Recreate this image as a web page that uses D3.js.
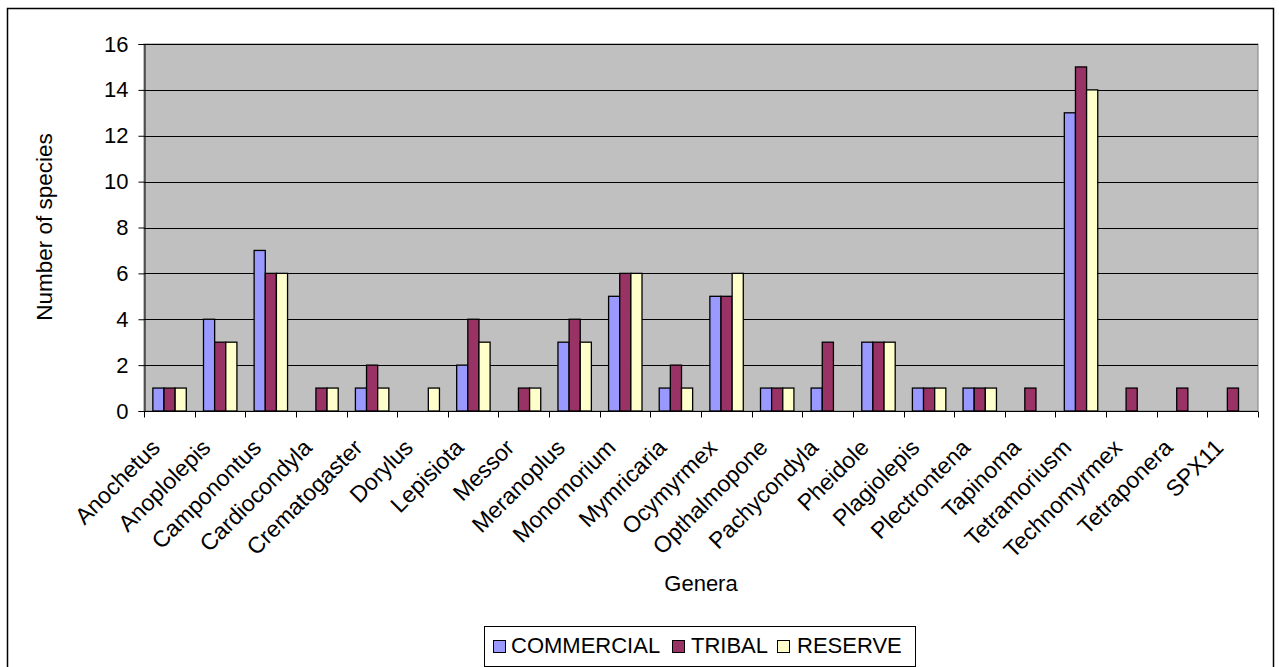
<!DOCTYPE html>
<html>
<head>
<meta charset="utf-8">
<script src="https://cdn.jsdelivr.net/npm/d3@7"></script>
<style>
  html, body { margin: 0; padding: 0; background: #fff; }
  svg { display: block; font-family: Arial, "Liberation Sans", Helvetica, sans-serif; }
</style>
</head>
<body>
<svg id="chart" width="1279" height="667"></svg>
<script>
// Genera sampled and species counts per land-use type
const genera = ["Anochetus", "Anoplolepis", "Camponontus", "Cardiocondyla", "Crematogaster",
  "Dorylus", "Lepisiota", "Messor", "Meranoplus", "Monomorium", "Mymricaria", "Ocymyrmex",
  "Opthalmopone", "Pachycondyla", "Pheidole", "Plagiolepis", "Plectrontena", "Tapinoma",
  "Tetramoriusm", "Technomyrmex", "Tetraponera", "SPX11"];
const commercial = [1, 4, 7, 0, 1, 0, 2, 0, 3, 5, 1, 5, 1, 1, 3, 1, 1, 0, 13, 0, 0, 0];
const tribal     = [1, 3, 6, 1, 2, 0, 4, 1, 4, 6, 2, 5, 1, 3, 3, 1, 1, 1, 15, 1, 1, 1];
const reserve    = [1, 3, 6, 1, 1, 1, 3, 1, 3, 6, 1, 6, 1, 0, 3, 1, 1, 0, 14, 0, 0, 0];
const seriesNames = ["COMMERCIAL", "TRIBAL", "RESERVE"];
const seriesColors = ["#9999FF", "#993366", "#FFFFCC"];
const yTicks = [0, 2, 4, 6, 8, 10, 12, 14, 16];

const seriesValues = [commercial, tribal, reserve];

const svg = d3.select("#chart");
const plot = { left: 144, right: 1258, top: 44, bottom: 411 };

// Outer chart frame
svg.append("rect")
  .attr("x", 7.5).attr("y", 8.5)
  .attr("width", 1266).attr("height", 670)
  .attr("fill", "#fff").attr("stroke", "#000").attr("stroke-width", 1.5);

const x = d3.scaleBand().domain(genera).range([plot.left, plot.right]).padding(0);
const xs = d3.scaleBand().domain(seriesNames)
  .range([x.bandwidth() * 0.175, x.bandwidth() * 0.835]).padding(0);
const y = d3.scaleLinear().domain([0, 16]).range([plot.bottom, plot.top]);

// Plot background
svg.append("rect")
  .attr("x", plot.left).attr("y", plot.top)
  .attr("width", plot.right - plot.left).attr("height", plot.bottom - plot.top)
  .attr("fill", "#C0C0C0").attr("stroke", "#808080").attr("stroke-width", 1);

// Horizontal gridlines
svg.append("g")
  .selectAll("line")
  .data(yTicks.filter(d => d > 0))
  .join("line")
  .attr("x1", plot.left).attr("x2", plot.right)
  .attr("y1", d => Math.round(y(d)) + 0.5).attr("y2", d => Math.round(y(d)) + 0.5)
  .attr("stroke", "#000").attr("stroke-width", 1);

// Bars
const flat = [];
genera.forEach((g, i) => {
  seriesNames.forEach((s, j) => {
    flat.push({ genus: g, series: s, value: seriesValues[j][i], color: seriesColors[j] });
  });
});
svg.append("g")
  .selectAll("rect")
  .data(flat.filter(d => d.value > 0))
  .join("rect")
  .attr("x", d => x(d.genus) + xs(d.series))
  .attr("y", d => y(d.value))
  .attr("width", xs.bandwidth())
  .attr("height", d => y(0) - y(d.value))
  .attr("fill", d => d.color)
  .attr("stroke", "#000").attr("stroke-width", 1.3);

// Y axis
const yAxis = svg.append("g")
  .attr("transform", `translate(${plot.left + 0.5},0)`)
  .call(d3.axisLeft(y).tickValues(yTicks).tickSize(6).tickPadding(10).tickFormat(d3.format("d")));
yAxis.select(".domain").attr("stroke", "#000");
yAxis.selectAll(".tick line").attr("stroke", "#000");
yAxis.selectAll(".tick text")
  .attr("font-size", 22).attr("fill", "#000")
  .attr("font-family", "Arial, 'Liberation Sans', sans-serif");

// X axis with ticks at category boundaries
const xAxisG = svg.append("g").attr("transform", `translate(0,${plot.bottom + 0.5})`);
xAxisG.append("line")
  .attr("x1", plot.left).attr("x2", plot.right)
  .attr("stroke", "#000");
const boundaries = genera.map(g => x(g)).concat([plot.right]);
xAxisG.selectAll("line.tk")
  .data(boundaries)
  .join("line")
  .attr("class", "tk")
  .attr("x1", d => Math.round(d) + 0.5).attr("x2", d => Math.round(d) + 0.5)
  .attr("y1", 0).attr("y2", 6)
  .attr("stroke", "#000");

// Rotated category labels
svg.append("g")
  .selectAll("text")
  .data(genera)
  .join("text")
  .attr("transform", d => `translate(${x(d) + x.bandwidth() / 2 - 8},449) rotate(-45)`)
  .attr("text-anchor", "end")
  .attr("font-size", 23)
  .attr("fill", "#000")
  .text(d => d);

// Axis titles
svg.append("text")
  .attr("transform", "translate(52,227) rotate(-90)")
  .attr("text-anchor", "middle")
  .attr("font-size", 22.5)
  .text("Number of species");

svg.append("text")
  .attr("x", 701).attr("y", 591)
  .attr("text-anchor", "middle")
  .attr("font-size", 22)
  .text("Genera");

// Legend
const legend = svg.append("g");
legend.append("rect")
  .attr("x", 484.5).attr("y", 626.5)
  .attr("width", 431).attr("height", 40)
  .attr("fill", "#fff").attr("stroke", "#000").attr("stroke-width", 1);
const swatchX = [493, 672, 777];
const labelX = [511, 691, 797];
seriesNames.forEach((s, j) => {
  legend.append("rect")
    .attr("x", swatchX[j] + 0.5).attr("y", 640.5)
    .attr("width", 12).attr("height", 12)
    .attr("fill", seriesColors[j]).attr("stroke", "#000").attr("stroke-width", 1);
  legend.append("text")
    .attr("x", labelX[j]).attr("y", 653)
    .attr("font-size", 22)
    .text(s);
});
</script>
</body>
</html>
